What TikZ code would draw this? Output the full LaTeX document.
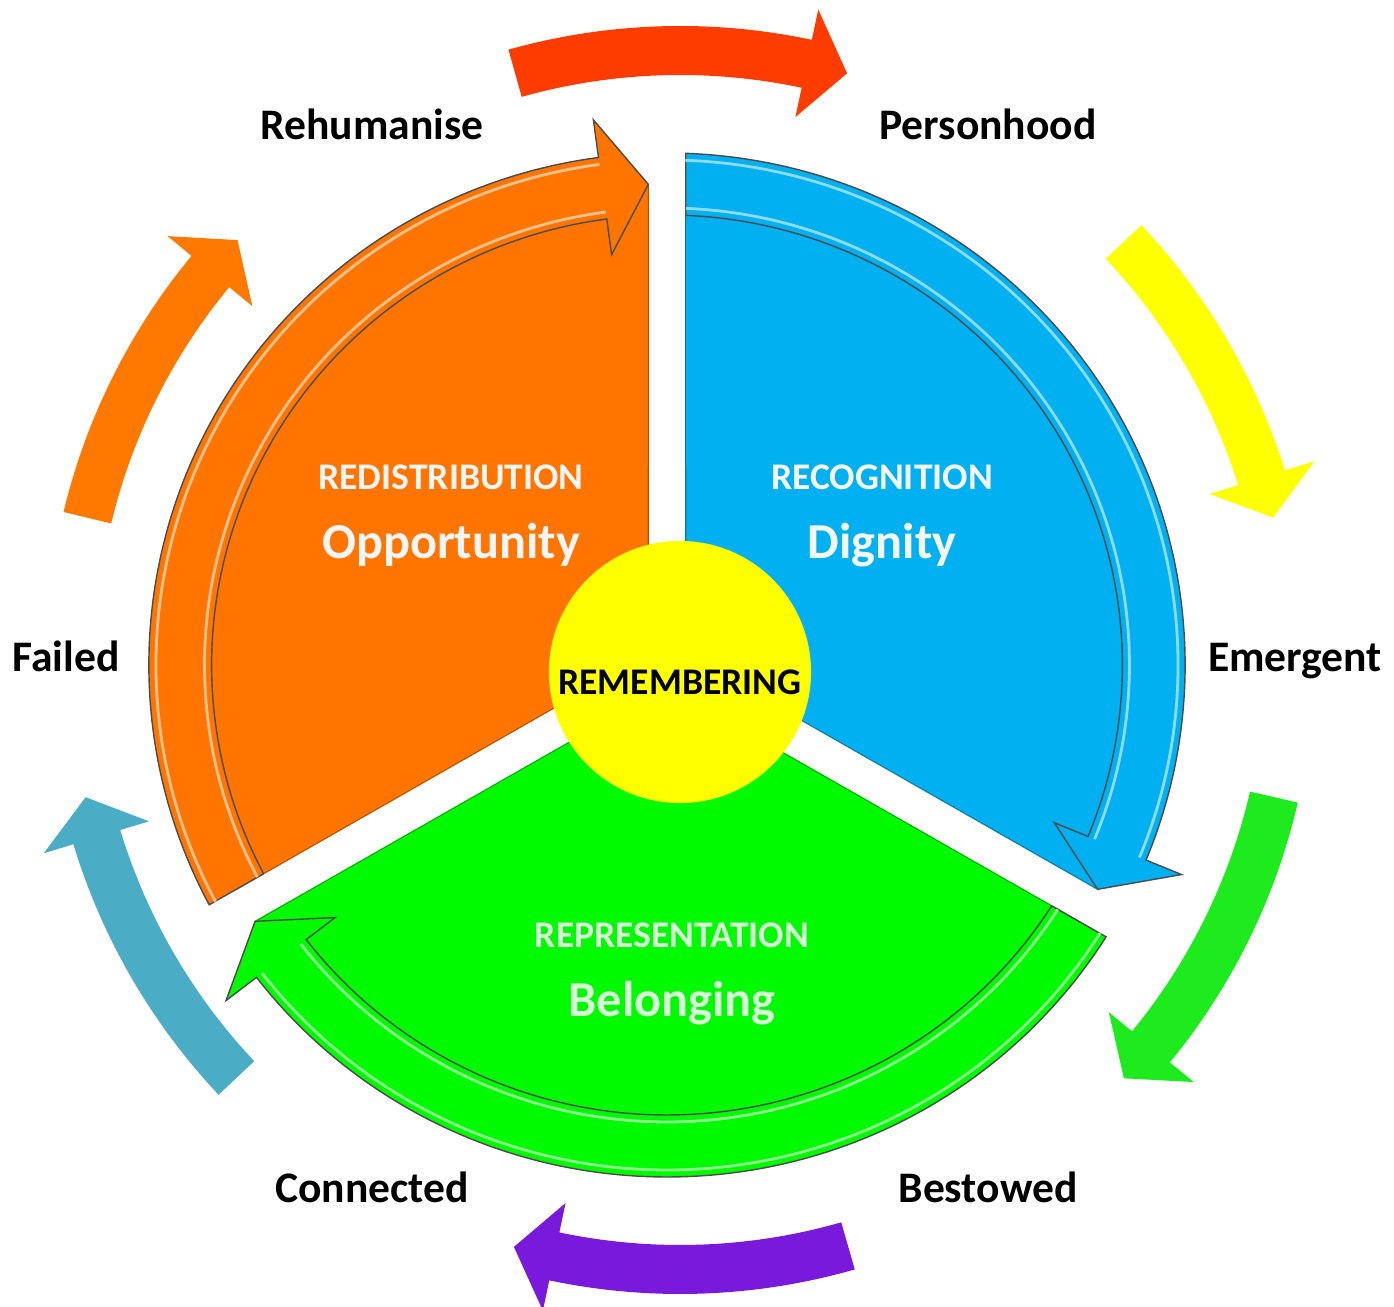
\documentclass[tikz,border=0pt]{standalone}
\usepackage{fontspec}
\setmainfont{Carlito}
\usepackage{tikz}
\usetikzlibrary{positioning, calc}
\definecolor{pieorange}{RGB}{255,117,0}
\definecolor{pieblue}{RGB}{0,176,240}
\definecolor{piegreen}{RGB}{0,250,0}
\definecolor{hubyellow}{RGB}{255,255,0}
\definecolor{ringred}{RGB}{255,60,0}
\definecolor{ringyellow}{RGB}{255,255,0}
\definecolor{ringgreen}{RGB}{30,235,30}
\definecolor{ringpurple}{RGB}{120,25,220}
\definecolor{ringteal}{RGB}{75,172,198}
\definecolor{ringorange}{RGB}{255,120,0}
\definecolor{pale}{RGB}{215,255,215}
\tikzstyle{pielabel}=[font=\fontsize{12.4}{14}\selectfont\bfseries, anchor=base]
\tikzstyle{headtext}=[font=\fontsize{10.7}{12}\selectfont\bfseries, text=white!96!black, anchor=base]
\tikzstyle{bigtext}=[font=\fontsize{14.3}{16}\selectfont\bfseries, text=white!96!black, anchor=base]
\tikzstyle{hubcircle}=[circle, fill=hubyellow, minimum size=2.62cm, inner sep=0pt]
\tikzstyle{bandline}=[draw=black!70, line width=0.4pt]
\tikzstyle{shine}=[line width=0.8pt]

\begin{document}
\begin{tikzpicture}[x=0.01cm, y=0.01cm]
    \useasboundingbox (-667,-647) rectangle (727,660);

    \foreach \b/\d/\col [evaluate=\d as \c using \d+3.9]
        in {105.7/74.1/ringred, 43.3/13.5/ringyellow, -13/-43.3/ringgreen,
            286/254.2/ringpurple, 223.3/193/ringteal, 166.5/136.5/ringorange}
        \fill[\col, shift={(13,0)}] (\b:634) arc[start angle=\b, end angle=\c, radius=634]
            -- (\c:665) -- (\d:610) -- (\c:555) -- (\c:585)
            arc[start angle=\c, end angle=\b, radius=585] -- cycle;

    \begin{scope}[shift={(0,-5)}, xscale=1.012]
    \foreach \t/\col [evaluate=\t as \bis using \t-60,
                      evaluate=\t as \ta using \t-2.07, evaluate=\t as \tb using \t-2.36,
                      evaluate=\t as \tm using \t-2.2, evaluate=\t as \hm using \t-120+2.2,
                      evaluate=\t as \hb using \t-120+7.6]
        in {210/pieorange, 90/pieblue, 330/piegreen}
    {
        \filldraw[fill=\col, draw=\col!70!black, line width=0.3pt] (\bis:21.4) -- (\hm:481)
            arc[start angle=\hm, end angle=\tm, radius=481] -- cycle;
        \filldraw[fill=\col, bandline] (\ta:512) arc[start angle=\ta, end angle=\hb, radius=512]
            -- (\hb:550) -- (\hm:481) -- (\hb:414) -- (\hb:450)
            arc[start angle=\hb, end angle=\tb, radius=450] -- cycle;
        \draw[shine, \col!45!white] (\tb:457) arc[start angle=\tb, end angle=\hb, radius=457];
        \draw[shine, \col!45!white] (\ta:505) arc[start angle=\ta, end angle=\hb, radius=505];
    }
    \end{scope}

    \node[hubcircle] (hub) at (13,-12) {};
    \node[pielabel] (hubtext) at (13,-35) {\fontsize{10.7}{12}\selectfont REMEMBERING};

    \node[headtext] (redist) at (-216,170) {REDISTRIBUTION};
    \node[bigtext] (opport) at ([yshift=-0.68cm]redist.base) {Opportunity};
    \node[headtext] (recog) at (215,170) {RECOGNITION};
    \node[bigtext] (dignity) at ([yshift=-0.68cm]recog.base) {Dignity};
    \node[headtext, text=pale] (repres) at (5,-288) {REPRESENTATION};
    \node[bigtext, text=pale] (belong) at ([yshift=-0.68cm]repres.base) {Belonging};

    \node[pielabel] (rehum) at (-295,520) {Rehumanise};
    \node[pielabel] (person) at (321,520) {Personhood};
    \node[pielabel] (failed) at (-601,-12) {Failed};
    \node[pielabel] (emerg) at (628,-12) {Emergent};
    \node[pielabel] (connect) at (-295,-543) {Connected};
    \node[pielabel] (bestow) at (321,-543) {Bestowed};
\end{tikzpicture}
\end{document}
